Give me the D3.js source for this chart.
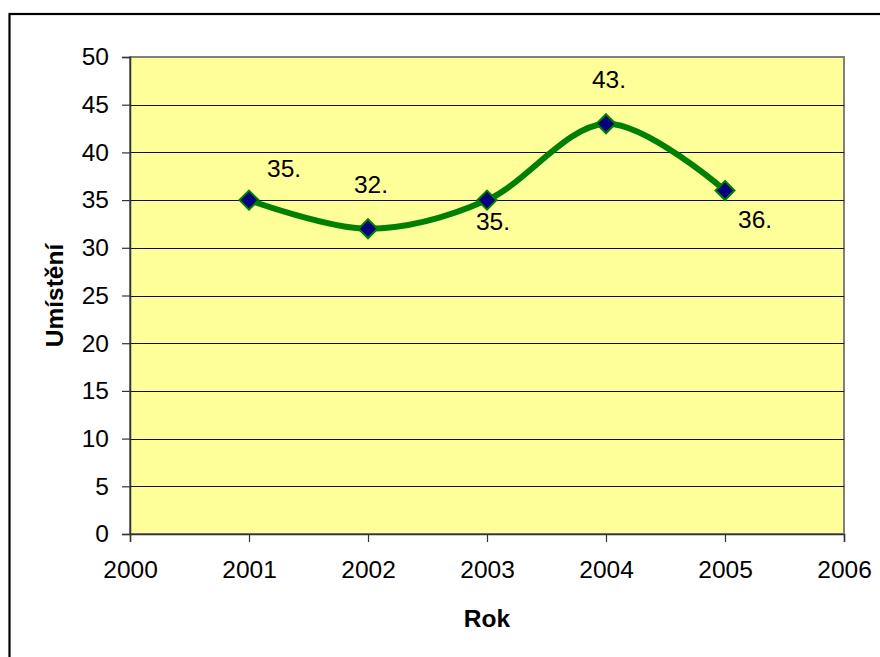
<!DOCTYPE html>
<html>
<head>
<meta charset="utf-8">
<script src="https://cdn.jsdelivr.net/npm/d3@7"></script>
<style>
  html, body { margin: 0; padding: 0; background: #fff; }
  svg { display: block; font-family: Arial, "Liberation Sans", sans-serif; }
</style>
</head>
<body>
<svg id="chart" width="880" height="657"></svg>
<script>
// ---- data ----
const years = [2001, 2002, 2003, 2004, 2005];
const ranks = [35, 32, 35, 43, 36];
const labels = ["35.", "32.", "35.", "43.", "36."];
const labelPlacement = ["rightAbove", "above", "below", "above", "rightBelow"];
const xTicks = [2000, 2001, 2002, 2003, 2004, 2005, 2006];
const yTicks = [0, 5, 10, 15, 20, 25, 30, 35, 40, 45, 50];
const xTitle = "Rok";
const yTitle = "Umístění";

// ---- layout ----
const svg = d3.select("#chart");
const plot = { left: 130, top: 57, right: 844, bottom: 534 };
const fontSize = 24.5;

const x = d3.scaleLinear().domain([2000, 2006]).range([plot.left, plot.right]);
const y = d3.scaleLinear().domain([0, 50]).range([plot.bottom, plot.top]);

// outer chart border (only top/left visible)
svg.append("rect")
  .attr("x", 9.5).attr("y", 14).attr("width", 1000).attr("height", 1000)
  .attr("fill", "none").attr("stroke", "#000").attr("stroke-width", 2.2);

// plot area
svg.append("rect")
  .attr("x", plot.left).attr("y", plot.top)
  .attr("width", plot.right - plot.left).attr("height", plot.bottom - plot.top)
  .attr("fill", "#FFFF99").attr("stroke", "#808080").attr("stroke-width", 2);

// gridlines
svg.append("g").selectAll("line")
  .data(yTicks.filter(d => d > 0 && d < 50))
  .join("line")
  .attr("x1", plot.left).attr("x2", plot.right)
  .attr("y1", d => Math.round(y(d)) + 0.5).attr("y2", d => Math.round(y(d)) + 0.5)
  .attr("stroke", "#111").attr("stroke-width", 1);

// y axis
const yAxis = d3.axisLeft(y).tickValues(yTicks).tickSize(8).tickPadding(13).tickFormat(d3.format("d"));
const gy = svg.append("g").attr("transform", `translate(${plot.left},0)`).call(yAxis);
gy.select(".domain").attr("stroke", "#333").attr("stroke-width", 1.5);
gy.selectAll(".tick line").attr("stroke", "#333").attr("stroke-width", 1.2);
gy.selectAll(".tick text").attr("font-size", fontSize).attr("fill", "#000")
  .attr("font-family", "Arial, 'Liberation Sans', sans-serif");

// x axis
const xAxis = d3.axisBottom(x).tickValues(xTicks).tickSize(8).tickPadding(19).tickFormat(d3.format("d"));
const gx = svg.append("g").attr("transform", `translate(0,${plot.bottom})`).call(xAxis);
gx.select(".domain").attr("stroke", "#333").attr("stroke-width", 1.5);
gx.selectAll(".tick line").attr("stroke", "#333").attr("stroke-width", 1.2);
gx.selectAll(".tick text").attr("font-size", fontSize).attr("fill", "#000")
  .attr("font-family", "Arial, 'Liberation Sans', sans-serif");

// axis titles
svg.append("text")
  .attr("x", (plot.left + plot.right) / 2).attr("y", 627)
  .attr("text-anchor", "middle").attr("font-weight", "bold")
  .attr("font-size", fontSize).text(xTitle);

svg.append("text")
  .attr("transform", `translate(63,${(plot.top + plot.bottom) / 2}) rotate(-90)`)
  .attr("text-anchor", "middle").attr("font-weight", "bold")
  .attr("font-size", fontSize).text(yTitle);

// line
const pts = years.map((yr, i) => [x(yr), y(ranks[i])]);
svg.append("path")
  .attr("d", d3.line().curve(d3.curveCardinal.tension(0))(pts))
  .attr("fill", "none").attr("stroke", "#008000").attr("stroke-width", 6)
  .attr("stroke-linejoin", "round");

// markers
const r = 9.5;
svg.append("g").selectAll("path")
  .data(pts)
  .join("path")
  .attr("d", d => `M${d[0]},${d[1] - r}L${d[0] + r},${d[1]}L${d[0]},${d[1] + r}L${d[0] - r},${d[1]}Z`)
  .attr("fill", "#000080").attr("stroke", "#008000").attr("stroke-width", 2);

// data labels
const offsets = {
  rightAbove: { dx: 18, dy: -23, anchor: "start" },
  above: { dx: 3, dy: -36, anchor: "middle" },
  below: { dx: 6, dy: 30, anchor: "middle" },
  rightBelow: { dx: 13, dy: 37, anchor: "start" }
};
svg.append("g").selectAll("text")
  .data(pts)
  .join("text")
  .attr("x", (d, i) => d[0] + offsets[labelPlacement[i]].dx)
  .attr("y", (d, i) => d[1] + offsets[labelPlacement[i]].dy)
  .attr("text-anchor", (d, i) => offsets[labelPlacement[i]].anchor)
  .attr("font-size", fontSize).attr("fill", "#000")
  .text((d, i) => labels[i]);
</script>
</body>
</html>
